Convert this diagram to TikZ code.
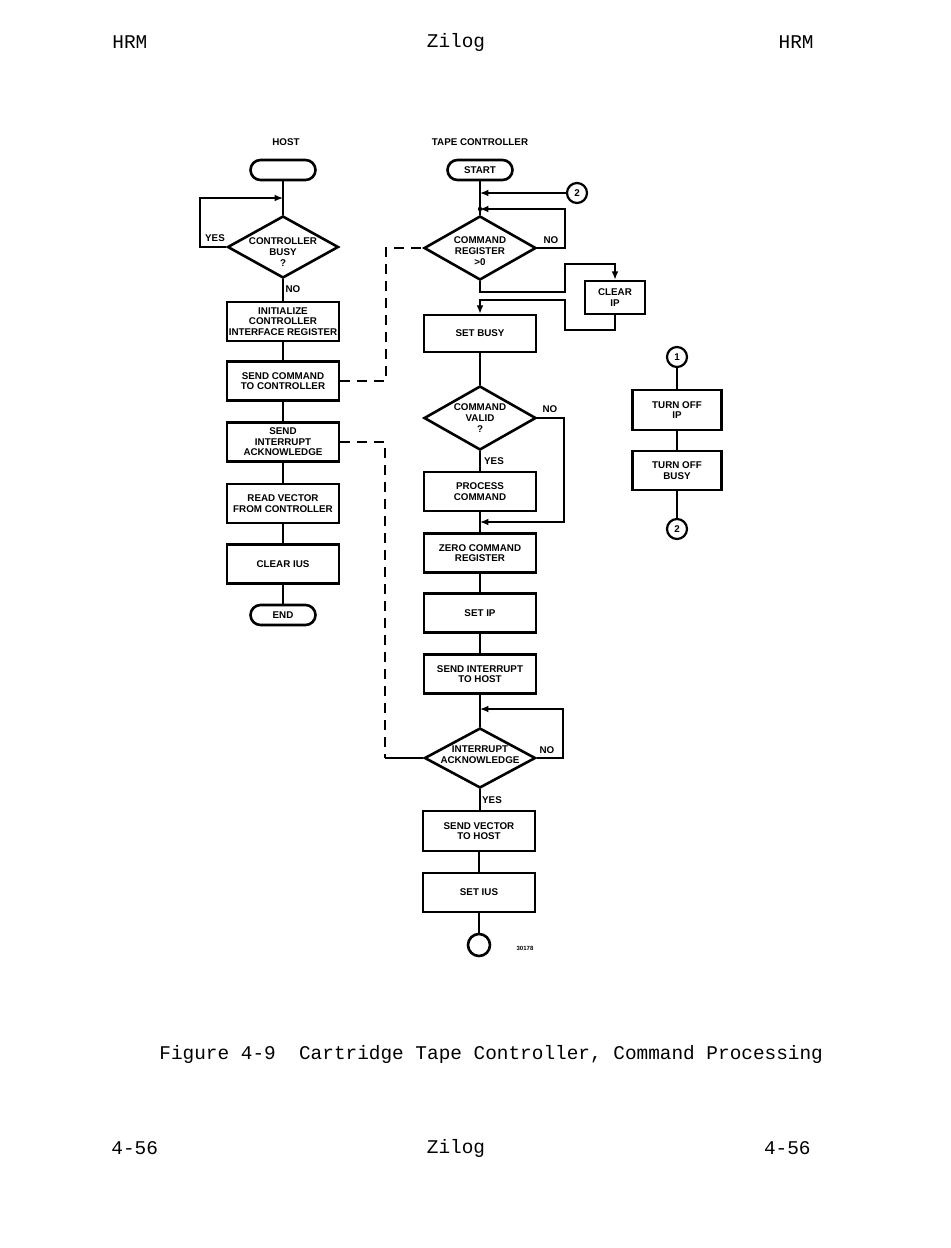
\documentclass[tikz,border=0pt]{standalone}
\usepackage{fontspec}
\setsansfont{Liberation Sans}
\setmonofont{Liberation Mono}
\usetikzlibrary{shapes.geometric,arrows.meta}
\tikzset{
  x=0.5pt, y=-0.5pt,
  fc/.style={font=\sffamily\bfseries\fontsize{4.9}{5.3}\selectfont, align=center},
  dc/.style={font=\sffamily\bfseries\fontsize{4.9}{5.5}\selectfont, align=center},
  procbox/.style={fc, draw, line width=1.3pt, minimum width=56pt, minimum height=19.5pt, inner sep=0pt},
  termbox/.style={fc, draw, line width=1.3pt, rounded corners=5pt, minimum width=32.5pt, minimum height=10pt, inner sep=0pt},
  decbox/.style={draw, diamond, line width=1.3pt, inner sep=0pt, minimum width=55.5pt, minimum height=31pt},
  conn/.style={fc, draw, circle, line width=1.1pt, minimum size=10pt, inner sep=0pt},
  flow/.style={line width=0.7pt},
  arr/.style={flow, -{Latex[length=4.2pt,width=3.4pt]}},
  dsh/.style={line width=0.7pt, dash pattern=on 5pt off 3.5pt},
  lab/.style={fc},
  pagetext/.style={font=\ttfamily\fontsize{9.7}{11}\selectfont, inner sep=0pt}
}
\begin{document}
\begin{tikzpicture}
\useasboundingbox (0,0) rectangle (950,1248);
% page text
\node[pagetext, anchor=west] (hl) at (112,42) {HRM};
\node[pagetext] (hc) at (456,42) {Zilog};
\node[pagetext, anchor=east] (hr) at (814,42) {HRM};
\node[pagetext, anchor=west] (cap) at (159,1054) {Figure 4-9\ \ Cartridge Tape Controller, Command Processing};
\node[pagetext, anchor=west] (fl) at (111,1148) {4-56};
\node[pagetext] (fc) at (456,1148) {Zilog};
\node[pagetext, anchor=east] (fr) at (811,1148) {4-56};

% column headings
\node[lab] (hosthead) at (286,142) {HOST};
\node[lab] (tapehead) at (480,142) {TAPE CONTROLLER};

% HOST column
\node[termbox] (hstart) at (283,170) {};
\node[decbox, label={[dc, yshift=-2.5pt]center:CONTROLLER\\BUSY\\?}] (hbusy) at (283,247) {};
\node[procbox] (hinit) at (283,321.5) {INITIALIZE\\CONTROLLER\\INTERFACE REGISTER};
\node[procbox] (hsend) at (283,381) {SEND COMMAND\\TO CONTROLLER};
\node[procbox] (hack) at (283,442) {SEND\\INTERRUPT\\ACKNOWLEDGE};
\node[procbox] (hread) at (283,503.5) {READ VECTOR\\FROM CONTROLLER};
\node[procbox] (hclear) at (283,564) {CLEAR IUS};
\node[termbox] (hend) at (283,615) {END};

\coordinate (hyes) at (200,198);
\coordinate (hjoin) at (283,198);
\draw[flow] (hstart) -- (hbusy.north);
\draw[arr] (hbusy.west) -| (hyes) -- (hjoin);
\node[lab] (hyeslab) at (215,238) {YES};
\draw[flow] (hbusy.south) -- (hinit.north);
\node[lab] (hnolab) at (293,289) {NO};
\draw[flow] (hinit) -- (hsend);
\draw[flow] (hsend) -- (hack);
\draw[flow] (hack) -- (hread);
\draw[flow] (hread) -- (hclear);
\draw[flow] (hclear) -- (hend);

% TAPE CONTROLLER column
\node[termbox] (tstart) at (480,170) {START};
\node[conn] (ctwo) at (577,193) {2};
\node[decbox, minimum width=56pt, minimum height=32pt, label={[dc, yshift=-1.5pt]center:COMMAND\\REGISTER\\>0}] (tcmd) at (480,248) {};
\node[procbox, minimum width=30pt, minimum height=16.5pt] (tclr) at (615,297.5) {CLEAR\\IP};
\node[procbox, minimum height=18.5pt] (tbusy) at (480,333.5) {SET BUSY};
\node[decbox, minimum width=56pt, minimum height=32pt, label={[dc]center:COMMAND\\VALID\\?}] (tvalid) at (480,418) {};
\node[procbox] (tproc) at (480,491.5) {PROCESS\\COMMAND};
\node[procbox] (tzero) at (480,553) {ZERO COMMAND\\REGISTER};
\node[procbox] (tsetip) at (480,613) {SET IP};
\node[procbox] (tsendint) at (480,674) {SEND INTERRUPT\\TO HOST};
\node[decbox, minimum height=30pt, label={[dc, yshift=1.5pt]center:INTERRUPT\\ACKNOWLEDGE}] (tint) at (480,758) {};
\node[procbox, minimum height=20pt] (tvec) at (479,831) {SEND VECTOR\\TO HOST};
\node[procbox] (tius) at (479,892.5) {SET IUS};
\node[draw, circle, line width=1.3pt, minimum size=11pt, inner sep=0pt] (tendc) at (479,945) {};
\node[font=\sffamily\bfseries\fontsize{3}{3}\selectfont, inner sep=0pt] (figno) at (525,948) {30178};

\coordinate (tin2) at (480,193);
\coordinate (tdot) at (480,209);
\coordinate (tno1) at (565,209);
\coordinate (b1) at (480,292);
\coordinate (b2) at (565,264);
\coordinate (c1) at (615,330);
\coordinate (c2) at (565,300);
\coordinate (v1) at (564,522);
\coordinate (vj) at (480,522);
\coordinate (n1) at (563,709);
\coordinate (nj) at (480,709);

\draw[flow] (tstart) -- (tcmd.north);
\draw[arr] (ctwo) -- (tin2);
\fill (tdot) circle (2.2);
\draw[arr] (tcmd.east) -| (tno1) -- (tdot);
\node[lab] (tnolab1) at (551,240) {NO};
\draw[arr] (tcmd.south) -- (b1) -| (b2) -| (tclr.north);
\draw[arr] (tclr.south) -- (c1) -| (c2) -| (tbusy.north);
\draw[flow] (tbusy) -- (tvalid.north);
\draw[flow] (tvalid.south) -- (tproc.north);
\node[lab] (tyeslab1) at (494,461) {YES};
\draw[arr] (tvalid.east) -| (v1) -- (vj);
\node[lab] (tnolab2) at (550,409) {NO};
\draw[flow] (tproc) -- (tzero);
\draw[flow] (tzero) -- (tsetip);
\draw[flow] (tsetip) -- (tsendint);
\draw[flow] (tsendint) -- (tint.north);
\draw[arr] (tint.east) -| (n1) -- (nj);
\node[lab] (tnolab3) at (547,750) {NO};
\draw[flow] (tint.south) -- (tint.south |- tvec.north);
\node[lab] (tyeslab2) at (492,800) {YES};
\draw[flow] (tvec) -- (tius);
\draw[flow] (tius) -- (tendc);

% dashed links
\coordinate (d1) at (386,381);
\coordinate (d2) at (385,442);
\coordinate (d3) at (385,758);
\draw[dsh] (hsend.east) -- (d1) |- (tcmd.west);
\draw[dsh] (hack.east) -- (d2) -- (d3);
\draw[flow] (d3) -- (tint.west);

% right column
\node[conn] (cone) at (677,357) {1};
\node[procbox, minimum width=44.5pt, minimum height=20pt] (toffip) at (677,410) {TURN OFF\\IP};
\node[procbox, minimum width=44.5pt, minimum height=19.5pt] (toffbusy) at (677,470.5) {TURN OFF\\BUSY};
\node[conn] (ctwob) at (677,529) {2};
\draw[flow] (cone) -- (toffip);
\draw[flow] (toffip) -- (toffbusy);
\draw[flow] (toffbusy) -- (ctwob);
\end{tikzpicture}
\end{document}
